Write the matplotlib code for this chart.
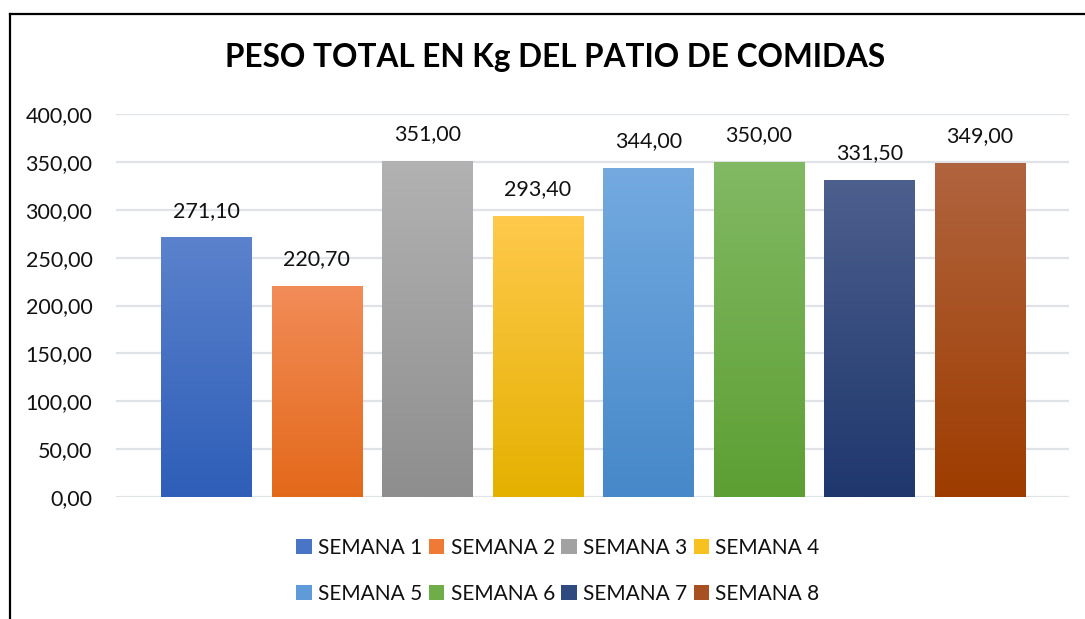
import matplotlib
matplotlib.use("Agg")
import matplotlib.pyplot as plt
import numpy as np
from matplotlib.patches import Patch
from matplotlib.lines import Line2D
from matplotlib.colors import LinearSegmentedColormap

categories = ["SEMANA 1", "SEMANA 2", "SEMANA 3", "SEMANA 4",
              "SEMANA 5", "SEMANA 6", "SEMANA 7", "SEMANA 8"]
values = [271.10, 220.70, 351.00, 293.40, 344.00, 350.00, 331.50, 349.00]
top_colors = ["#5b82cc", "#f28c58", "#b2b2b2", "#ffc94c", "#74aae0", "#82b964", "#4d5f8d", "#b0643f"]
bottom_colors = ["#2e5eb8", "#e3691a", "#8e8e8e", "#e4b100", "#4688c9", "#5d9f33", "#1e376d", "#9e3c00"]
legend_colors = ["#4a74c6", "#ee7a36", "#a2a2a2", "#f7c11f", "#5f9bd8", "#6fad48", "#2e4a7e", "#a85022"]
yticks = [0, 50, 100, 150, 200, 250, 300, 350, 400]
title = "PESO TOTAL EN Kg DEL PATIO DE COMIDAS"

plt.rcParams['font.family'] = ['Lato', 'DejaVu Sans']

fig = plt.figure(figsize=(10.85, 6.19), dpi=100)
ax = fig.add_axes([116/1085, 1-497/619, (1069-116)/1085, (497-114)/619])

x = np.arange(len(categories))
width = 0.814
bars = ax.bar(x, values, width=width, color="none", edgecolor="none", zorder=3)

grad = np.linspace(1, 0, 256).reshape(-1, 1)
for b, ct, cb in zip(bars, top_colors, bottom_colors):
    cmap = LinearSegmentedColormap.from_list("g", [cb, ct])
    x0, y0 = b.get_x(), b.get_y()
    w, h = b.get_width(), b.get_height()
    im = ax.imshow(grad, cmap=cmap, aspect="auto", extent=[x0, x0 + w, y0, y0 + h],
                   origin="upper", zorder=3, vmin=0, vmax=1)
    im.set_clip_path(b)

for xi, v in zip(x, values):
    ax.annotate(f"{v:.2f}".replace(".", ","), (xi, v), xytext=(0, 12),
                textcoords="offset points", ha="center", va="bottom",
                fontsize=15.5, color="#111111")

ax.set_xlim(-0.814, 7.805)
ax.set_ylim(0, 400)
ax.set_yticks(yticks)
ax.set_yticklabels([f"{t:.2f}".replace(".", ",") for t in yticks], fontsize=15.5, color="#111111")
ax.set_xticks([])
ax.tick_params(axis="y", length=0, pad=17)
ax.grid(axis="y", color="#dfe3e8", linewidth=1.6, zorder=0)
for s in ax.spines.values():
    s.set_visible(False)

fig.text(555/1085, 1-58/619, title, ha="center", va="center",
         fontsize=22.7, fontweight="bold", color="#000000")

order = [0, 4, 1, 5, 2, 6, 3, 7]
handles = [Patch(facecolor=legend_colors[i], edgecolor="none") for i in order]
labels = [categories[i] for i in order]
leg = fig.legend(handles, labels, loc="center", bbox_to_anchor=(558/1085, 1-571/619),
                 ncol=4, frameon=False, fontsize=15, handlelength=0.75, handleheight=0.75,
                 handletextpad=0.3, columnspacing=0.3, labelspacing=1.25)
for t in leg.get_texts():
    t.set_color("#111111")

fig.add_artist(Line2D([10/1085, 10/1085], [0, 1-14/619], color="black", linewidth=1.6))
fig.add_artist(Line2D([10/1085, 1], [1-14/619, 1-14/619], color="black", linewidth=1.6))

fig.savefig("out.png", dpi=100)
